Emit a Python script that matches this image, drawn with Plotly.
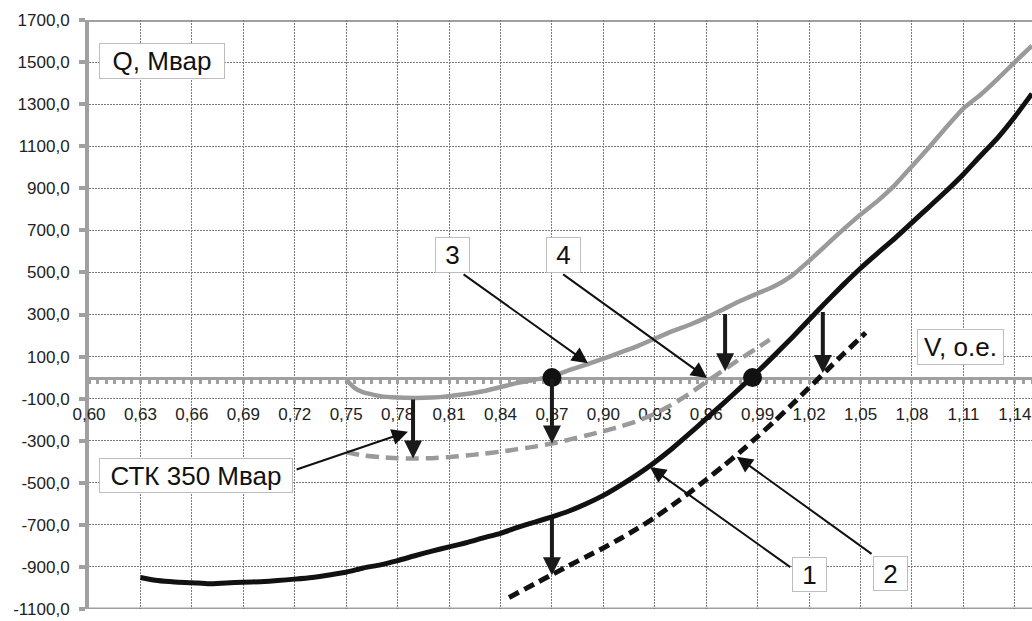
import plotly.graph_objects as go

# ---- data ----
V1 = [0.63, 0.64, 0.65, 0.66, 0.67, 0.68, 0.69, 0.70, 0.71, 0.72, 0.73, 0.74, 0.75, 0.76, 0.77,
      0.78, 0.79, 0.80, 0.81, 0.82, 0.83, 0.84, 0.85, 0.86, 0.87, 0.88, 0.89, 0.90, 0.91, 0.92,
      0.93, 0.94, 0.95, 0.96, 0.97, 0.98, 0.99, 1.00, 1.01, 1.02, 1.03, 1.04, 1.05, 1.06, 1.07,
      1.08, 1.09, 1.10, 1.11, 1.12, 1.13, 1.14, 1.15]
Q1 = [-950, -965, -972, -975, -980, -976, -973, -970, -965, -958, -950, -938, -925, -905, -890,
      -870, -847, -825, -805, -785, -762, -740, -712, -687, -662, -634, -600, -560, -512, -460,
      -402, -338, -268, -195, -122, -48, 28, 108, 190, 275, 360, 442, 520, 592, 662,
      737, 812, 887, 967, 1055, 1140, 1240, 1350]

V2 = [0.845, 0.86, 0.87, 0.88, 0.89, 0.90, 0.91, 0.92, 0.93, 0.94, 0.95, 0.96, 0.97, 0.98,
      0.99, 1.00, 1.01, 1.02, 1.03, 1.04, 1.05, 1.053]
Q2 = [-1045, -980, -937, -893, -852, -810, -765, -717, -665, -608, -548, -485, -420, -352,
      -280, -206, -128, -48, 32, 112, 190, 213]

V3 = [0.75, 0.755, 0.76, 0.77, 0.78, 0.79, 0.80, 0.81, 0.82, 0.83, 0.84, 0.85, 0.86, 0.87,
      0.88, 0.89, 0.90, 0.91, 0.92, 0.93, 0.94, 0.95, 0.96, 0.97, 0.98, 0.99, 1.00, 1.01,
      1.02, 1.03, 1.04, 1.05, 1.06, 1.07, 1.08, 1.09, 1.10, 1.11, 1.12, 1.13, 1.14, 1.15]
Q3 = [-10, -50, -70, -88, -95, -97, -95, -88, -78, -65, -45, -25, -10, 5,
      35, 62, 90, 120, 150, 185, 220, 250, 285, 325, 365, 400, 435, 485,
      555, 630, 705, 775, 840, 915, 1005, 1095, 1190, 1280, 1345, 1420, 1500, 1578]

V4 = [0.75, 0.76, 0.77, 0.78, 0.79, 0.80, 0.81, 0.82, 0.83, 0.84, 0.85, 0.86, 0.87, 0.88,
      0.89, 0.90, 0.91, 0.92, 0.93, 0.94, 0.95, 0.96, 0.97, 0.98, 0.99, 0.997]
Q4 = [-355, -370, -378, -383, -385, -383, -378, -370, -362, -352, -340, -328, -313, -295,
      -275, -255, -232, -206, -172, -128, -78, -20, 35, 90, 142, 180]

# operating points (Q = 0)
DOT_V = [0.87, 0.987]
DOT_Q = [0, 0]

# SVC shift arrows: V, Q from, Q to
SHIFT_V = [0.789, 0.87, 0.87, 0.971, 1.028]
SHIFT_Q_FROM = [-97, 0, -662, 310, 319]
SHIFT_Q_TO = [-385, -313, -940, 30, 22]

V_TICKS = [0.60, 0.63, 0.66, 0.69, 0.72, 0.75, 0.78, 0.81, 0.84, 0.87, 0.90, 0.93, 0.96, 0.99,
           1.02, 1.05, 1.08, 1.11, 1.14]
V_TICK_LABELS = ["0,60", "0,63", "0,66", "0,69", "0,72", "0,75", "0,78", "0,81", "0,84", "0,87",
                 "0,90", "0,93", "0,96", "0,99", "1,02", "1,05", "1,08", "1,11", "1,14"]
Q_TICKS = [-1100, -900, -700, -500, -300, -100, 100, 300, 500, 700, 900, 1100, 1300, 1500, 1700]
Q_TICK_LABELS = ["-1100,0", "-900,0", "-700,0", "-500,0", "-300,0", "-100,0", "100,0", "300,0",
                 "500,0", "700,0", "900,0", "1100,0", "1300,0", "1500,0", "1700,0"]

X_RANGE = [0.60, 1.15]
Y_RANGE = [-1100, 1700]

BLACK = "#111111"
GRAY = "#9a9a9a"
AXGRAY = "#a0a0a0"

fig = go.Figure()
fig.add_trace(go.Scatter(x=V4, y=Q4, mode="lines",
                         line=dict(color=GRAY, width=4.5, dash="13px,7px", shape="spline", smoothing=0.6)))
fig.add_trace(go.Scatter(x=V3, y=Q3, mode="lines",
                         line=dict(color=GRAY, width=4.5, shape="spline", smoothing=0.4)))
fig.add_trace(go.Scatter(x=V2, y=Q2, mode="lines",
                         line=dict(color=BLACK, width=5, dash="11px,6px", shape="spline", smoothing=0.6)))
fig.add_trace(go.Scatter(x=V1, y=Q1, mode="lines",
                         line=dict(color=BLACK, width=5, shape="spline", smoothing=0.5)))
fig.add_trace(go.Scatter(x=DOT_V, y=DOT_Q, mode="markers", marker=dict(color=BLACK, size=19)))

annotations = []
for v, q0, q1 in zip(SHIFT_V, SHIFT_Q_FROM, SHIFT_Q_TO):
    annotations.append(dict(x=v, y=q1, ax=v, ay=q0, xref="x", yref="y", axref="x", ayref="y",
                            text="", showarrow=True, arrowhead=2, arrowwidth=4, arrowsize=0.9,
                            arrowcolor="#1a1a1a", standoff=0, startstandoff=0))

# label boxes: text, center V, center Q, box width, box height
LABELS = [
    ("Q, Мвар", 0.6426, 1507, 126, 36),
    ("V, o.e.", 1.1083, 146, 87, 36),
    ("3", 0.812, 583, 35, 36),
    ("4", 0.8765, 583, 35, 36),
    ("СТК 350 Мвар", 0.6624, -465, 194, 35),
    ("1", 1.020, -934, 35, 35),
    ("2", 1.0672, -929, 35, 35),
]
for t, v, q, w, h in LABELS:
    annotations.append(dict(x=v, y=q, xref="x", yref="y", text=t, showarrow=False,
                            font=dict(family="Liberation Sans, Arial", size=26, color="#111"),
                            bgcolor="white", bordercolor="#bdbdbd", borderwidth=1, borderpad=1,
                            width=w - 4, height=h - 4, xanchor="center", yanchor="middle"))

# pointer arrows: tail (V, Q) -> head (V, Q)
POINTERS = [
    (0.8176, 496, 0.891, 68),
    (0.8757, 496, 0.9605, -2),
    (0.7202, -439, 0.786, -257),
    (1.0099, -906, 0.9272, -425),
    (1.0573, -843, 0.9778, -376),
]
for tv, tq, hv, hq in POINTERS:
    annotations.append(dict(x=hv, y=hq, ax=tv, ay=tq, xref="x", yref="y", axref="x", ayref="y",
                            text="", showarrow=True, arrowhead=2, arrowwidth=2, arrowsize=1.6,
                            arrowcolor="#111", standoff=0))

zero_pos = (0 - Y_RANGE[0]) / (Y_RANGE[1] - Y_RANGE[0])

fig.update_layout(
    width=1032, height=621,
    margin=dict(l=89, r=0, t=20, b=12),
    paper_bgcolor="white", plot_bgcolor="white",
    showlegend=False,
    annotations=annotations,
    font=dict(family="Liberation Sans, Arial", color="#222"),
    xaxis=dict(range=X_RANGE, tickvals=V_TICKS, ticktext=V_TICK_LABELS,
               showgrid=True, gridcolor="#7a7a7a", griddash="2px,1px", gridwidth=1,
               zeroline=False, showline=True, linecolor=AXGRAY, linewidth=3,
               anchor="free", position=zero_pos, layer="below traces",
               ticks="outside", ticklen=4, tickwidth=3, tickcolor=AXGRAY,
               ticklabelstandoff=16,
               minor=dict(dtick=0.005, tick0=0.6, ticks="outside", ticklen=4, tickwidth=3,
                          tickcolor=AXGRAY, showgrid=False),
               tickfont=dict(size=17, color="#222")),
    yaxis=dict(range=Y_RANGE, tickvals=Q_TICKS, ticktext=Q_TICK_LABELS,
               showgrid=True, gridcolor="#7a7a7a", griddash="2px,1px", gridwidth=1,
               zeroline=False, showline=True, linecolor=AXGRAY, linewidth=4,
               ticks="outside", ticklen=6, tickwidth=4, tickcolor=AXGRAY,
               ticklabelstandoff=6, layer="below traces",
               tickfont=dict(size=17, color="#222")),
    shapes=[
        dict(type="line", xref="paper", yref="y", x0=0, x1=1, y0=Y_RANGE[1], y1=Y_RANGE[1],
             line=dict(color=AXGRAY, width=4), layer="below"),
        dict(type="line", xref="paper", yref="y", x0=0, x1=1, y0=Y_RANGE[0], y1=Y_RANGE[0],
             line=dict(color=AXGRAY, width=3), layer="below"),
    ],
)

fig.write_html("out.html", config={"displayModeBar": False},
               post_script="document.body.style.margin='0';")
